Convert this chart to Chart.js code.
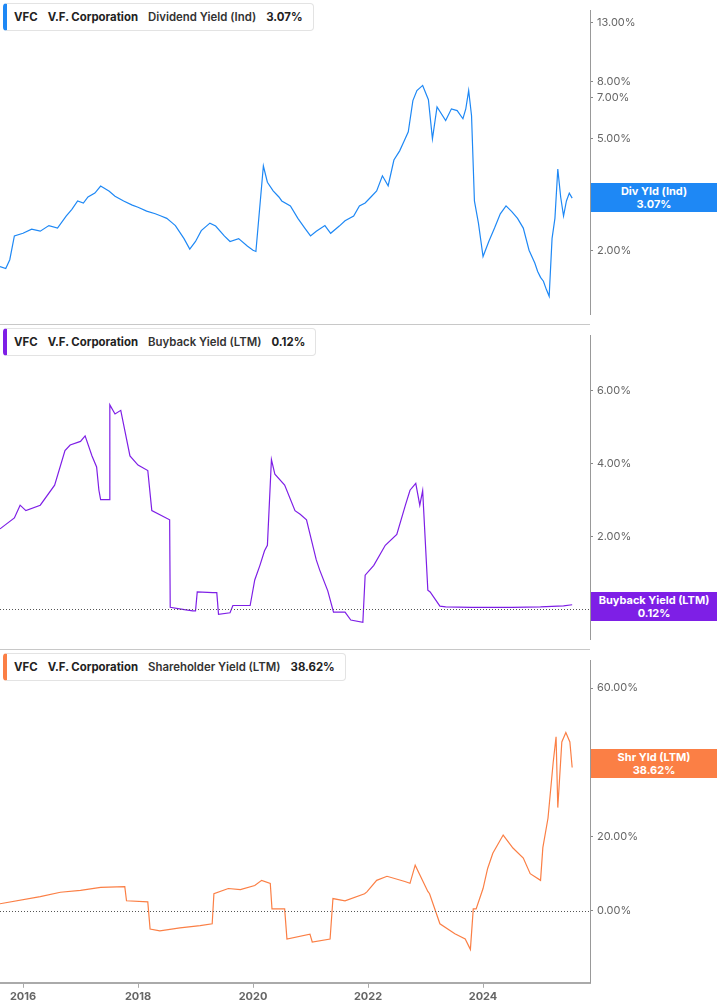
<!DOCTYPE html>
<html>
<head>
<meta charset="utf-8">
<script src="https://cdn.jsdelivr.net/npm/chart.js@4"></script>
<style>
  body { margin:0; width:717px; height:1005px; background:#fff; font-family:Inter, "Open Sans", sans-serif; position:relative; overflow:hidden; }
  .pane { position:absolute; left:0; width:717px; }
  .sep { position:absolute; left:0; width:590px; height:1px; background:#c8c8c8; }
  .legend { position:absolute; left:3px; height:26px; background:#fff; border:1px solid #e3e3e3; border-left:4px solid; border-radius:4px;
    font-size:11.4px; font-weight:700; color:#222; line-height:26px; padding:0 10px 0 7px; white-space:nowrap; }
  .legend span { margin-right:10px; }
  .legend .n { font-weight:600; color:#333; }
  .tag { position:absolute; left:591px; width:126px; height:29px; color:#fff; font-size:11px; font-weight:700; text-align:center; line-height:13px; padding-top:2px; box-sizing:border-box; }
</style>
</head>
<body>
<div class="pane" style="top:0;height:325px"><canvas id="c1"></canvas></div>
<div class="pane" style="top:325px;height:325px"><canvas id="c2"></canvas></div>
<div class="pane" style="top:650px;height:355px"><canvas id="c3"></canvas></div>
<div class="sep" style="top:324px"></div>
<div class="sep" style="top:649px"></div>

<div class="legend" style="top:3px;border-left-color:#1e88f5"><span>VFC</span><span>V.F. Corporation</span><span class="n">Dividend Yield (Ind)</span><span style="margin:0">3.07%</span></div>
<div class="legend" style="top:328px;border-left-color:#7e1fe6"><span>VFC</span><span>V.F. Corporation</span><span class="n">Buyback Yield (LTM)</span><span style="margin:0">0.12%</span></div>
<div class="legend" style="top:653px;border-left-color:#fb7f45"><span>VFC</span><span>V.F. Corporation</span><span class="n">Shareholder Yield (LTM)</span><span style="margin:0">38.62%</span></div>

<div class="tag" style="top:183px;background:#1e88f5">Div Yld (Ind)<br>3.07%</div>
<div class="tag" style="top:592px;background:#7e1fe6">Buyback Yield (LTM)<br>0.12%</div>
<div class="tag" style="top:749px;background:#fb7f45">Shr Yld (LTM)<br>38.62%</div>

<script>
// time in decimal years
const divYears = [2015.60,2015.70,2015.77,2015.85,2016.00,2016.15,2016.30,2016.45,2016.60,2016.75,2016.85,2016.95,2017.05,2017.13,2017.25,2017.35,2017.50,2017.60,2017.75,2017.90,2018.00,2018.15,2018.30,2018.40,2018.50,2018.60,2018.65,2018.80,2018.90,2019.00,2019.10,2019.25,2019.35,2019.50,2019.60,2019.75,2019.90,2020.00,2020.05,2020.18,2020.25,2020.35,2020.45,2020.50,2020.65,2020.78,2020.90,2021.00,2021.10,2021.25,2021.35,2021.50,2021.60,2021.75,2021.85,2021.95,2022.05,2022.15,2022.25,2022.35,2022.45,2022.55,2022.63,2022.70,2022.78,2022.85,2022.95,2023.05,2023.12,2023.20,2023.35,2023.45,2023.55,2023.65,2023.70,2023.75,2023.80,2023.85,2023.92,2024.00,2024.10,2024.20,2024.30,2024.40,2024.50,2024.60,2024.70,2024.80,2024.90,2024.95,2025.00,2025.05,2025.10,2025.15,2025.20,2025.25,2025.30,2025.35,2025.40,2025.45,2025.50,2025.55];
const divYield = [1.75,1.72,1.85,2.25,2.30,2.38,2.34,2.45,2.40,2.65,2.80,3.00,2.95,3.10,3.20,3.39,3.25,3.12,3.00,2.90,2.85,2.76,2.70,2.65,2.60,2.50,2.45,2.20,2.02,2.15,2.35,2.50,2.44,2.25,2.15,2.20,2.07,2.00,1.98,4.00,3.50,3.26,3.10,3.00,2.88,2.60,2.40,2.25,2.34,2.45,2.30,2.44,2.55,2.65,2.88,2.95,3.10,3.26,3.69,3.40,4.20,4.53,4.92,5.30,6.85,7.44,7.76,6.90,5.00,6.50,5.81,6.40,6.31,5.90,6.40,7.44,6.05,3.00,2.50,1.90,2.15,2.40,2.70,2.88,2.75,2.60,2.40,2.00,1.80,1.68,1.60,1.55,1.45,1.37,2.20,2.60,3.90,3.10,2.65,3.00,3.20,3.07];

const bbYears = [2015.60,2015.85,2015.95,2016.05,2016.30,2016.55,2016.73,2016.82,2017.00,2017.08,2017.20,2017.28,2017.32,2017.35,2017.50,2017.51,2017.60,2017.70,2017.86,2018.00,2018.17,2018.24,2018.55,2018.56,2018.75,2018.95,2019.00,2019.03,2019.30,2019.37,2019.40,2019.60,2019.65,2019.95,2020.03,2020.12,2020.20,2020.25,2020.32,2020.38,2020.55,2020.73,2020.82,2020.93,2021.10,2021.16,2021.30,2021.40,2021.60,2021.70,2021.91,2021.95,2022.10,2022.30,2022.50,2022.65,2022.73,2022.83,2022.90,2022.95,2023.04,2023.08,2023.25,2023.35,2023.80,2024.50,2025.00,2025.40,2025.55];
const bbYield = [2.20,2.50,2.85,2.70,2.85,3.40,4.35,4.50,4.60,4.75,4.20,3.90,3.26,3.00,3.00,5.60,5.35,5.45,4.20,3.95,3.80,2.70,2.45,0.05,0.00,-0.05,-0.05,0.47,0.45,0.45,-0.14,-0.10,0.10,0.10,0.80,1.20,1.60,1.75,4.10,3.70,3.40,2.70,2.60,2.45,1.35,1.07,0.50,-0.08,-0.08,-0.30,-0.36,0.93,1.20,1.75,2.05,2.85,3.26,3.45,2.85,3.25,0.52,0.47,0.08,0.06,0.05,0.05,0.06,0.09,0.12];

const shYears = [2015.60,2016.30,2016.65,2017.00,2017.35,2017.77,2017.80,2018.17,2018.21,2018.38,2018.73,2019.08,2019.29,2019.32,2019.57,2019.78,2020.03,2020.15,2020.30,2020.33,2020.55,2020.59,2020.99,2021.03,2021.34,2021.39,2021.60,2021.94,2021.98,2022.15,2022.33,2022.64,2022.73,2022.82,2023.04,2023.07,2023.25,2023.51,2023.69,2023.78,2023.83,2023.88,2024.00,2024.08,2024.17,2024.35,2024.52,2024.70,2024.82,2025.00,2025.04,2025.13,2025.22,2025.27,2025.30,2025.37,2025.44,2025.51,2025.55];
const shYield = [1.9,3.8,5.0,5.5,6.3,6.5,2.7,2.4,-4.9,-5.4,-4.6,-4.0,-3.5,4.6,6.0,5.7,6.8,8.2,7.4,0.5,0.5,-7.6,-6.3,-8.4,-7.6,3.3,2.7,4.6,5.1,8.2,9.3,7.9,7.4,12.3,5.2,4.6,-3.5,-6.2,-7.6,-10.4,0.5,0.5,6.0,11.4,15.5,20.4,16.9,14.2,10.0,8.2,17.0,25.0,40.0,46.9,27.8,45.5,48.0,45.5,38.62];

const X_MIN = 2015.6, X_MAX = 2025.86;
const yearTicks = [2016, 2018, 2020, 2022, 2024];
const divTicks = [2, 3, 5, 7, 8, 13];
const bbTicks = [0, 2, 4, 6];
const shTicks = [0, 20, 40, 60];

const tickFont = { family: 'Inter, sans-serif', size: 11 };

const zeroLine = {
  id: 'zeroLine',
  afterDatasetsDraw(chart, args, opts) {
    if (!opts.on) return;
    const { ctx, chartArea } = chart;
    const y = chart.scales.y.getPixelForValue(0);
    ctx.save();
    ctx.strokeStyle = '#555';
    ctx.lineWidth = 1;
    ctx.setLineDash([1, 2]);
    ctx.beginPath();
    ctx.moveTo(chartArea.left, Math.round(y) + 0.5);
    ctx.lineTo(chartArea.right, Math.round(y) + 0.5);
    ctx.stroke();
    ctx.restore();
  }
};

function makeChart(id, xs, ys, color, yOpts, showX, zero) {
  const data = xs.map((x, i) => ({ x, y: ys[i] }));
  return new Chart(document.getElementById(id), {
    type: 'line',
    data: { datasets: [{ data, borderColor: color, borderWidth: 1.2, pointRadius: 0, tension: 0 }] },
    plugins: [zeroLine],
    options: {
      responsive: true, maintainAspectRatio: false, animation: false,
      layout: { padding: 0 },
      plugins: { legend: { display: false }, tooltip: { enabled: false }, zeroLine: { on: zero } },
      scales: {
        x: {
          type: 'linear', min: X_MIN, max: X_MAX, display: showX,
          afterBuildTicks: a => { a.ticks = yearTicks.map(v => ({ value: v })); },
          ticks: { color: '#666', font: { ...tickFont, weight: 'bold' }, callback: v => String(v), padding: 2, maxRotation: 0 },
          grid: { drawOnChartArea: false, tickLength: 5, color: '#aaa' },
          border: { color: '#aaa', width: 2 }
        },
        y: Object.assign({
          position: 'right',
          afterFit: a => { a.width = 127; },
          ticks: { color: '#666', font: tickFont, padding: 4, callback: v => v.toFixed(2) + '%' },
          grid: { drawOnChartArea: false, tickLength: 3, color: '#888' },
          border: { color: '#999', width: 1 }
        }, yOpts)
      }
    }
  });
}

makeChart('c1', divYears, divYield, '#1e88f5', {
  type: 'logarithmic', min: 1.18, max: 14.36,
  afterBuildTicks: a => { a.ticks = divTicks.map(v => ({ value: v })); }
}, false, false);

makeChart('c2', bbYears, bbYield, '#7e1fe6', {
  type: 'linear', min: -0.83, max: 7.50,
  afterBuildTicks: a => { a.ticks = bbTicks.map(v => ({ value: v })); }
}, false, true);

makeChart('c3', shYears, shYield, '#fb7f45', {
  type: 'linear', min: -19.4, max: 67.4,
  afterBuildTicks: a => { a.ticks = shTicks.map(v => ({ value: v })); }
}, true, true);
</script>
</body>
</html>
